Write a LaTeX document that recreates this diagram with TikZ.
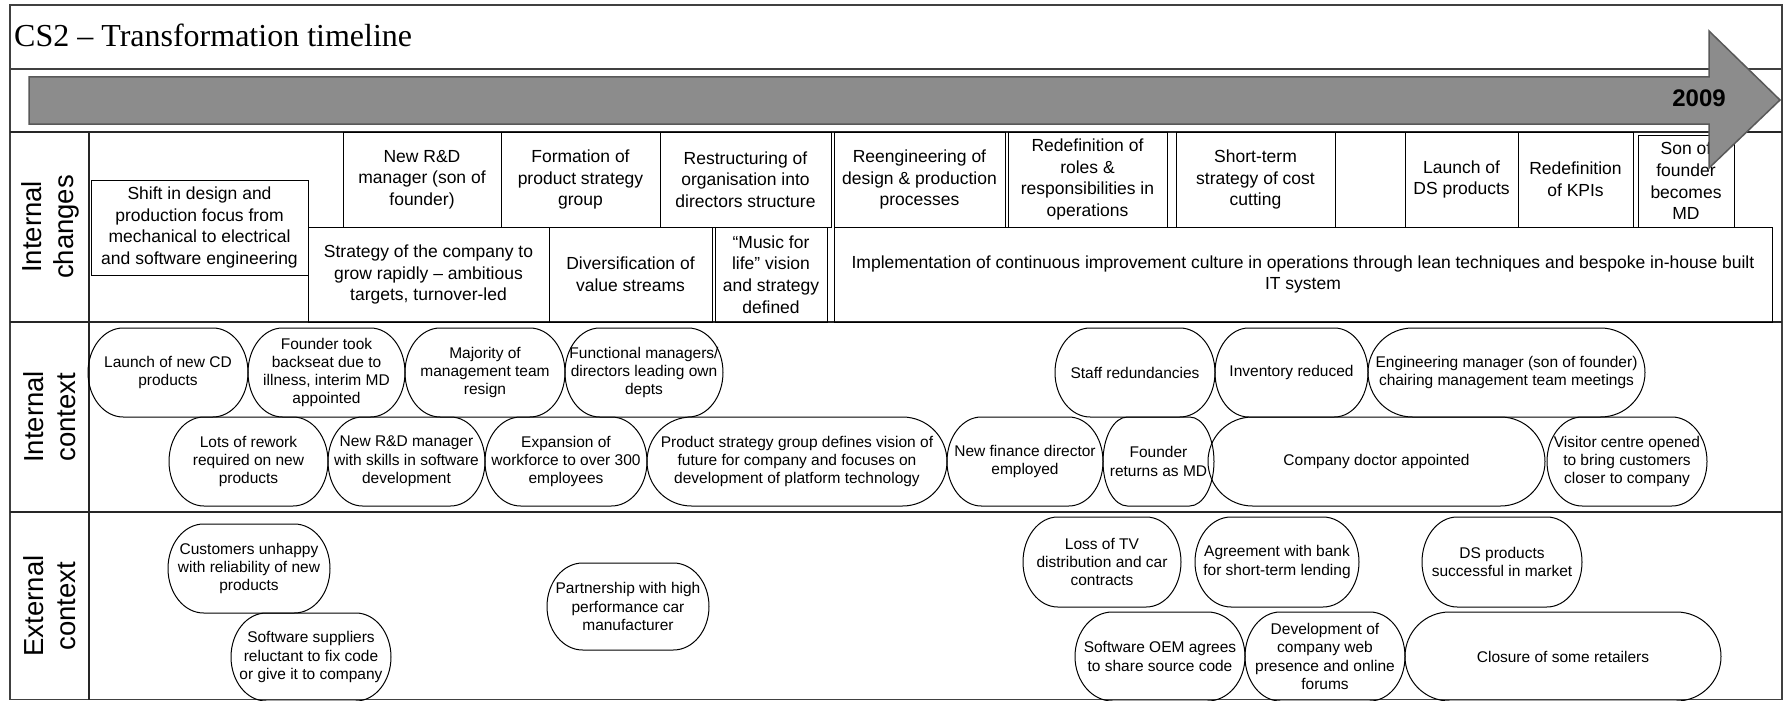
\documentclass[tikz,border=0pt]{standalone}
\usepackage{fontspec}
\setmainfont{Liberation Sans}
\newfontfamily\titlefont{Liberation Serif}

% Terminator-like box with elliptical ends: name, left, top, right, bottom, text
\newcommand\ovalbox[6]{%
  \pgfmathsetmacro\oL{#2}\pgfmathsetmacro\oT{#3}%
  \pgfmathsetmacro\oR{#4}\pgfmathsetmacro\oB{#5}%
  \pgfmathsetmacro\oM{(\oT+\oB)/2}%
  \pgfmathsetmacro\oRy{(\oB-\oT)/2}%
  \pgfmathsetmacro\oRx{min(0.22*(\oR-\oL),\oRy)}%
  \pgfmathsetmacro\oKx{0.5523*\oRx}\pgfmathsetmacro\oKy{0.5523*\oRy}%
  \draw[ovalline] (\oL+\oRx,\oT) -- (\oR-\oRx,\oT)
    .. controls (\oR-\oRx+\oKx,\oT) and (\oR,\oM-\oKy) .. (\oR,\oM)
    .. controls (\oR,\oM+\oKy) and (\oR-\oRx+\oKx,\oB) .. (\oR-\oRx,\oB)
    -- (\oL+\oRx,\oB)
    .. controls (\oL+\oRx-\oKx,\oB) and (\oL,\oM+\oKy) .. (\oL,\oM)
    .. controls (\oL,\oM-\oKy) and (\oL+\oRx-\oKx,\oT) .. (\oL+\oRx,\oT) -- cycle;
  \node[ovaltext] (#1) at ({(\oL+\oR)/2},\oM) {#6};
}

% Rectangular change box: name, left, top, right, bottom, text
\newcommand\cellbox[6]{%
  \pgfmathsetmacro\cW{#4-#2}\pgfmathsetmacro\cH{#5-#3}%
  \node[changebox, minimum width=\cW pt, minimum height=\cH pt]
    (#1) at ({(#2+#4)/2},{(#3+#5)/2}) {#6};
}

\tikzset{
  ovalline/.style={draw=black, line width=1pt},
  ovaltext/.style={font=\fontsize{15.5}{18.3}\selectfont, align=center, inner sep=0pt},
  changebox/.style={draw=black, line width=1pt, inner sep=0pt, align=center,
    font=\fontsize{17.5}{21.7}\selectfont},
  frameline/.style={draw=black!75, line width=1.5pt},
  bandline/.style={draw=black!85, line width=2.2pt},
  bandlabel/.style={rotate=90, align=center, inner sep=0pt,
    font=\fontsize{27.5}{32}\selectfont},
  timearrow/.style={fill=black!45, draw=black!65, line width=1.5pt, line join=miter},
}

\begin{document}
\begin{tikzpicture}[x=1pt, y=-1pt]
\useasboundingbox (0,0) rectangle (1791,701);
\fill[white] (0,0) rectangle (1791,701);

% frame and bands
\draw[frameline] (10,5) rectangle (1782,699.5);
\draw[frameline] (10,69) -- (1782,69);
\draw[bandline] (10,132) -- (1782,132);
\draw[bandline] (10,322) -- (1782,322);
\draw[bandline] (10,512) -- (1782,512);
\draw[bandline] (89,132) -- (89,699.5);

% title
\node[anchor=base west, inner sep=0pt, font=\titlefont\fontsize{32}{32}\selectfont]
  (title) at (14,47) {CS2 – Transformation timeline};

% band labels
\node[bandlabel] (lblchanges) at (50,227) {Internal\\changes};
\node[bandlabel] (lblinternal) at (50,417) {Internal\\context};
\node[bandlabel] (lblexternal) at (50,606) {External\\context};

% internal changes: upper row
\cellbox{rdmgr}{343}{132}{501}{227}{New R\&D\\manager (son of\\founder)}
\cellbox{formation}{501}{132}{660}{227}{Formation of\\product strategy\\group}
\cellbox{restruct}{660}{132}{831}{227}{Restructuring of\\organisation into\\directors structure}
\cellbox{reeng}{834}{132}{1005}{227}{Reengineering of\\design \& production\\processes}
\cellbox{roles}{1008}{132}{1167}{227}{Redefinition of\\roles \&\\responsibilities in\\operations}
\cellbox{costcut}{1176}{132}{1335}{227}{Short-term\\strategy of cost\\cutting}
\cellbox{emptycell}{1335}{132}{1405}{227}{}
\cellbox{dslaunch}{1405}{132}{1518}{227}{Launch of\\DS products}
\cellbox{kpis}{1518}{132}{1633}{227}{Redefinition\\of KPIs}
\cellbox{sonmd}{1638}{135}{1734}{227}{Son of\\founder\\becomes\\MD}

% internal changes: lower row
\cellbox{growth}{308}{227}{549}{322}{Strategy of the company to\\grow rapidly – ambitious\\targets, turnover-led}
\cellbox{divers}{549}{227}{712}{322}{Diversification of\\value streams}
\cellbox{music}{715}{227}{827}{322}{“Music for\\life” vision\\and strategy\\defined}
\cellbox{lean}{834}{227}{1772}{322}{Implementation of continuous improvement culture in operations through lean techniques and bespoke in-house built\\IT system}

% spanning box
\cellbox{shift}{91}{180}{308}{275}{Shift in design and\\production focus from\\mechanical to electrical\\and software engineering}

% internal context: first row
\ovalbox{cdlaunch}{88}{328}{248}{417}{Launch of new CD\\products}
\ovalbox{backseat}{248}{328}{405}{417}{Founder took\\backseat due to\\illness, interim MD\\appointed}
\ovalbox{resign}{405}{328}{565}{417}{Majority of\\management team\\resign}
\ovalbox{functional}{565}{328}{723}{417}{Functional managers/\\directors leading own\\depts}
\ovalbox{redund}{1055}{328}{1215}{417}{Staff redundancies}
\ovalbox{inventory}{1215}{328}{1368}{417}{Inventory reduced}
\ovalbox{engmgr}{1368}{328}{1645}{417}{Engineering manager (son of founder)\\chairing management team meetings}

% internal context: second row
\ovalbox{rework}{169}{417}{328}{506}{Lots of rework\\required on new\\products}
\ovalbox{newrd}{328}{417}{485}{506}{New R\&D manager\\with skills in software\\development}
\ovalbox{workforce}{485}{417}{647}{506}{Expansion of\\workforce to over 300\\employees}
\ovalbox{vision}{647}{417}{947}{506}{Product strategy group defines vision of\\future for company and focuses on\\development of platform technology}
\ovalbox{finance}{947}{417}{1103}{506}{New finance director\\employed}
\ovalbox{founderback}{1103}{417}{1214}{506}{Founder\\returns as MD}
\ovalbox{doctor}{1208}{417}{1545}{506}{Company doctor appointed}
\ovalbox{visitor}{1547}{417}{1707}{506}{Visitor centre opened\\to bring customers\\closer to company}

% external context
\ovalbox{customers}{168}{524}{330}{613}{Customers unhappy\\with reliability of new\\products}
\ovalbox{suppliers}{231}{613}{391}{701}{Software suppliers\\reluctant to fix code\\or give it to company}
\ovalbox{partner}{547}{563}{709}{650}{Partnership with high\\performance car\\manufacturer}
\ovalbox{tvloss}{1023}{517}{1181}{607}{Loss of TV\\distribution and car\\contracts}
\ovalbox{bank}{1195}{517}{1359}{607}{Agreement with bank\\for short-term lending}
\ovalbox{dsmarket}{1422}{517}{1582}{607}{DS products\\successful in market}
\ovalbox{oem}{1075}{612}{1245}{701}{Software OEM agrees\\to share source code}
\ovalbox{web}{1245}{612}{1405}{701}{Development of\\company web\\presence and online\\forums}
\ovalbox{retailers}{1405}{612}{1721}{701}{Closure of some retailers}

% timeline arrow
\draw[timearrow] (29,77) -- (1709,77) -- (1709,31) -- (1780,100)
  -- (1709,168) -- (1709,124) -- (29,124) -- cycle;
\node[inner sep=0pt, font=\bfseries\fontsize{24}{24}\selectfont] (year) at (1699,98) {2009};
\end{tikzpicture}
\end{document}
